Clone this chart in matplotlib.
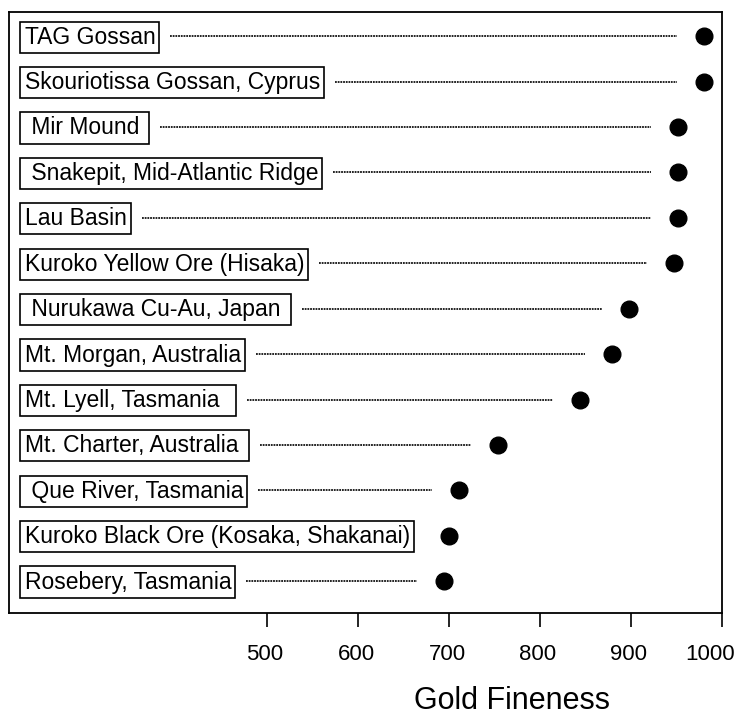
import numpy as np
import matplotlib
matplotlib.use('Agg')
import matplotlib.pyplot as plt
from matplotlib.transforms import blended_transform_factory, offset_copy

# data, top to bottom
sites = ['TAG Gossan', 'Skouriotissa Gossan, Cyprus', ' Mir Mound ',
         ' Snakepit, Mid-Atlantic Ridge', 'Lau Basin', 'Kuroko Yellow Ore (Hisaka)',
         ' Nurukawa Cu-Au, Japan ', 'Mt. Morgan, Australia', 'Mt. Lyell, Tasmania  ',
         'Mt. Charter, Australia ', ' Que River, Tasmania',
         'Kuroko Black Ore (Kosaka, Shakanai)', 'Rosebery, Tasmania']
fineness = [981, 980, 952, 952, 952, 948, 898, 879, 844, 754, 711, 700, 694]
ticks = [500, 600, 700, 800, 900, 1000]

plt.rcParams['font.family'] = ['Liberation Sans', 'DejaVu Sans']

fig = plt.figure(figsize=(7.41, 7.15), dpi=100)
ax = fig.add_axes([0.012, 0.1427, 0.962, 0.8403])

n = len(sites)
ypos = np.arange(n)[::-1]

ax.plot(fineness, ypos, 'o', color='black', ms=12, zorder=3)

ax.set_xlim(216, 1000)
ax.set_ylim(-0.7, n - 1 + 0.53)
ax.set_yticks([])
ax.set_xticks(ticks)
ax.tick_params(axis='x', direction='out', length=10, width=1.2, labelsize=16, pad=12)
for s in ax.spines.values():
    s.set_linewidth(1.3)
# nudge tick labels a little left, like the original
for i, lab in enumerate(ax.get_xticklabels()):
    dx = -12 if i == len(ticks) - 1 else -2
    lab.set_transform(offset_copy(lab.get_transform(), fig=fig, x=dx, y=0, units='dots'))

fig.text(512 / 741, 0.008, 'Gold Fineness', fontsize=22, ha='center', va='baseline')

# labels in boxes
trans = blended_transform_factory(ax.transAxes, ax.transData)
labels = []
for name, y in zip(sites, ypos):
    t = ax.text(0.022, y - 0.02, name, transform=trans, fontsize=16.5,
                va='center', ha='left',
                bbox=dict(boxstyle='square,pad=0.18', fc='white', ec='black', lw=1.2))
    labels.append(t)

# dotted leader lines from box to dot
fig.canvas.draw()
renderer = fig.canvas.get_renderer()
inv = ax.transData.inverted()
px_unit = ax.transData.transform((1000, 0))[0] - ax.transData.transform((999, 0))[0]
for t, val, y in zip(labels, fineness, ypos):
    bb = t.get_bbox_patch().get_window_extent(renderer)
    x0 = inv.transform((bb.x1 + 11, 0))[0]
    x1 = val - 27 / px_unit
    if x1 - x0 > 20 / px_unit:
        ax.plot([x0, x1], [y, y], color='#111111', lw=1.3,
                linestyle=(0, (1, 0.5)), zorder=2)

fig.savefig('out.png', dpi=100)
